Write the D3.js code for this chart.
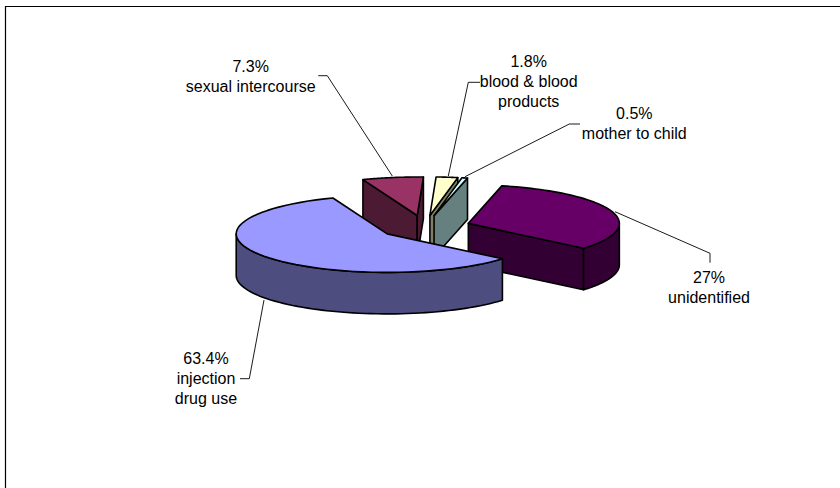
<!DOCTYPE html>
<html>
<head>
<meta charset="utf-8">
<script src="https://d3js.org/d3.v7.min.js"></script>
<style>
    html, body { margin: 0; padding: 0; background: #fff; }
    svg { display: block; }
    text { font-family: "Liberation Sans", Arial, sans-serif; font-size: 16px; fill: #000; }
</style>
</head>
<body>
<div id="chart"></div>
<script>
// slice order follows the drawing, clockwise from the top of the pie
const categories = ['unidentified', 'injection drug use', 'sexual intercourse', 'blood & blood products', 'mother to child']
const percentLabels = ['27%', '63.4%', '7.3%', '1.8%', '0.5%']
// share of the pie as actually drawn in the picture (differs from the printed labels)
const drawnShares = [32.6, 57.9, 6.5, 2.3, 0.6]
const topColors = ['#660066', '#9999ff', '#993366', '#ffffcc', '#ccffff']
const sideColors = ['#330033', '#4d4d80', '#4d1a33', '#808066', '#668080']
// wrapped label lines: the percent comes from percentLabels, then the category split over lines
const categoryLines = [
    ['unidentified'],
    ['injection', 'drug use'],
    ['sexual intercourse'],
    ['blood & blood', 'products'],
    ['mother to child']
]
const labelPos = [[709, 282.5], [206, 364], [250.7, 71.7], [528.7, 67.3], [634.3, 119]]
const leaders = [
    [[710, 262.7], [710, 253.3], [615, 211.7]],
    [[240, 378.7], [249.3, 378.7], [264, 300]],
    [[318.3, 75.7], [327.3, 75.7], [392.3, 176]],
    [[480, 82.3], [468.3, 82.3], [448.3, 176]],
    [[580, 124], [569.3, 124], [465, 176.7]]
]

const width = 840
const height = 488
const cx = 424.7, cy = 227.1
const rx = 151, ry = 38.5
const explode = 46
const depth = 41.5
const startDeg = 12.8

const svg = d3.select('#chart').append('svg')
    .attr('width', width)
    .attr('height', height)

// frame, runs off the right and bottom of the picture
svg.append('path')
    .attr('d', d3.line()([[5.5, height], [5.5, 6.5], [width, 6.5]]))
    .attr('fill', 'none')
    .attr('stroke', '#000')
    .attr('stroke-width', 1.2)

const pie = d3.pie()
    .sort(null)
    .startAngle(startDeg * Math.PI / 180)
    .endAngle(startDeg * Math.PI / 180 + 2 * Math.PI)
const arcs = pie(drawnShares)

arcs.forEach((a, i) => {
    const mid = (a.startAngle + a.endAngle) / 2
    a.ox = cx + explode * Math.sin(mid)
    a.oy = cy - explode * (ry / rx) * Math.cos(mid)
})

const pt = (a, t, z) => [a.ox + rx * Math.sin(t), a.oy - ry * Math.cos(t) + (z || 0)]
const sample = (a, t0, t1, z) => d3.range(0, 61).map(k => pt(a, t0 + (t1 - t0) * k / 60, z))
const line = d3.line()

// back to front: the big slices at the near side go last
const drawOrder = [2, 3, 4, 0, 1]

drawOrder.forEach(i => {
    const a = arcs[i]
    const g = svg.append('g')
    const apex = [a.ox, a.oy]
    const apexLow = [a.ox, a.oy + depth]
    const face = pts => g.append('path')
        .attr('d', line(pts) + 'Z')
        .attr('fill', sideColors[i])
        .attr('stroke', '#000')
        .attr('stroke-width', 1.6)
        .attr('stroke-linejoin', 'round')

    // cut walls, only the ones turned towards the viewer
    if (Math.sin(a.startAngle) < 0) {
        face([apex, pt(a, a.startAngle), pt(a, a.startAngle, depth), apexLow])
    }
    if (Math.sin(a.endAngle) > 0) {
        face([apex, pt(a, a.endAngle), pt(a, a.endAngle, depth), apexLow])
    }
    // outer rim, visible on the near half of the ellipse
    const rim0 = Math.max(a.startAngle, Math.PI / 2)
    const rim1 = Math.min(a.endAngle, 3 * Math.PI / 2)
    if (rim1 > rim0) {
        face(sample(a, rim0, rim1).concat(sample(a, rim1, rim0, depth)))
    }
    // top face
    g.append('path')
        .attr('d', line([apex].concat(sample(a, a.startAngle, a.endAngle))) + 'Z')
        .attr('fill', topColors[i])
        .attr('stroke', '#000')
        .attr('stroke-width', 1.6)
        .attr('stroke-linejoin', 'round')
})

// leader lines
svg.selectAll('path.leader')
    .data(leaders)
    .join('path')
    .attr('class', 'leader')
    .attr('d', d => line(d))
    .attr('fill', 'none')
    .attr('stroke', '#000')
    .attr('stroke-width', 0.9)

// data labels
categories.forEach((c, i) => {
    const t = svg.append('text')
        .attr('x', labelPos[i][0])
        .attr('y', labelPos[i][1])
        .attr('text-anchor', 'middle')
    const lines = [percentLabels[i]].concat(categoryLines[i])
    lines.forEach((s, j) => {
        t.append('tspan')
            .attr('x', labelPos[i][0])
            .attr('dy', j === 0 ? 0 : 20)
            .text(s)
    })
})
</script>
</body>
</html>
